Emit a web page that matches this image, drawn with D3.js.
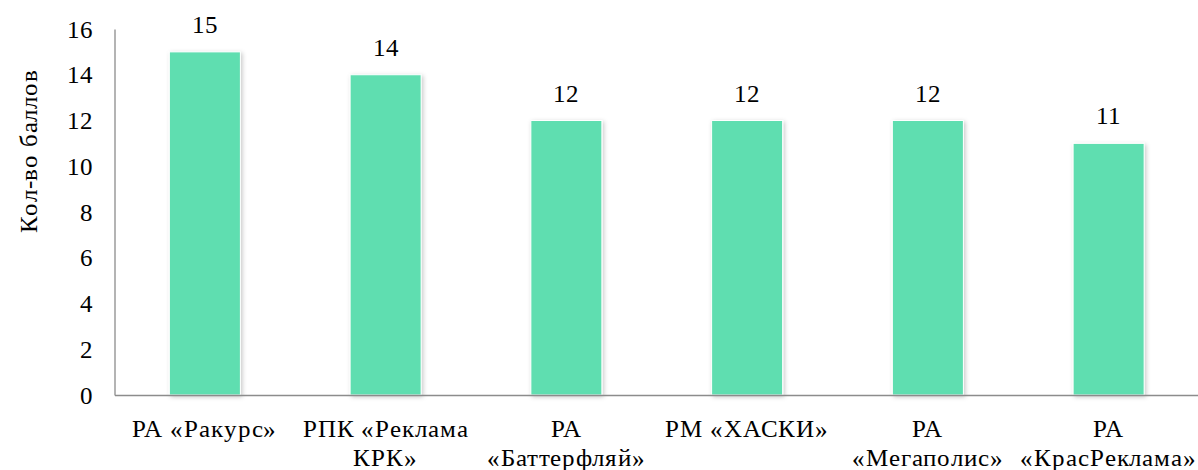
<!DOCTYPE html>
<html><head><meta charset="utf-8"><script src="https://cdn.jsdelivr.net/npm/d3@7"></script>
<style>
@font-face { font-family: "ChartSerif"; src: local("Liberation Serif"), local("LiberationSerif"), local("Times New Roman"); }
#chart text { font-family: "ChartSerif", "Liberation Serif", "Times New Roman", serif !important; }
</style>
</head>
<body style="margin:0;background:#fff">
<svg id="chart" width="1198" height="470"></svg>
<script>
const categories = [
  "РА «Ракурс»",
  "РПК «Реклама\nКРК»",
  "РА\n«Баттерфляй»",
  "РМ «ХАСКИ»",
  "РА\n«Мегаполис»",
  "РА\n«КрасРеклама»"
];
const values = [15, 14, 12, 12, 12, 11];
const yTicks = [0, 2, 4, 6, 8, 10, 12, 14, 16];
const yTitle = "Кол-во баллов";

const serifFont = "ChartSerif, Liberation Serif, serif";
const svg = d3.select("#chart");
const mLeft = 114.5, mRight = 1199, mTop = 29, mBottom = 395;

const defs = svg.append("defs");
const flt = defs.append("filter").attr("id", "shadow")
  .attr("x", "-20%").attr("y", "-20%").attr("width", "140%").attr("height", "140%");
flt.append("feDropShadow").attr("dx", 1.5).attr("dy", 1.5).attr("stdDeviation", 2)
  .attr("flood-color", "#000").attr("flood-opacity", 0.22);

const x = d3.scaleBand().domain(categories).range([mLeft, mRight]).paddingInner(0.607).paddingOuter(0.3035);
const y = d3.scaleLinear().domain([0, 16]).range([mBottom, mTop]);

svg.append("g").selectAll("rect").data(values).enter().append("rect")
  .attr("x", (d, i) => x(categories[i]))
  .attr("y", d => y(d))
  .attr("width", x.bandwidth())
  .attr("height", d => y(0) - y(d))
  .attr("fill", "#5EDEB0")
  .attr("stroke", "#fff")
  .attr("stroke-width", 1)
  .attr("filter", "url(#shadow)");

svg.append("g").selectAll("text").data(values).enter().append("text")
  .attr("x", (d, i) => x(categories[i]) + x.bandwidth() / 2)
  .attr("y", d => y(d) - 19)
  .attr("text-anchor", "middle")
  .attr("font-family", serifFont).attr("font-size", 24.5)
  .text(d => d);

const yAxis = d3.axisLeft(y).tickValues(yTicks).tickSize(0).tickPadding(22);
const gy = svg.append("g").attr("transform", `translate(${mLeft},0)`).call(yAxis);
gy.attr("font-family", serifFont).attr("font-size", 25);
gy.select(".domain").attr("stroke", "#8c8c8c").attr("stroke-width", 1.3);
gy.selectAll("text").attr("font-family", serifFont).attr("font-size", 25).attr("fill", "#000");

const xAxis = d3.axisBottom(x).tickSize(0).tickFormat("");
const gx = svg.append("g").attr("transform", `translate(0,${mBottom})`).call(xAxis);
gx.select(".domain").attr("stroke", "#8c8c8c").attr("stroke-width", 1.3);

const cl = svg.append("g").selectAll("text").data(categories).enter().append("text")
  .attr("text-anchor", "middle")
  .attr("font-family", serifFont).attr("font-size", 25).attr("letter-spacing", 0.9)
  .attr("x", d => x(d) + x.bandwidth() / 2)
  .attr("y", 437);
cl.each(function(d) {
  const lines = d.split("\n");
  const t = d3.select(this);
  lines.forEach((ln, i) => {
    t.append("tspan").attr("x", x(d) + x.bandwidth() / 2).attr("dy", i === 0 ? 0 : 28.5).text(ln);
  });
});

svg.append("text")
  .attr("transform", `translate(36.5,151) rotate(-90)`)
  .attr("text-anchor", "middle")
  .attr("font-family", serifFont).attr("font-size", 25).attr("letter-spacing", 0.8)
  .text(yTitle);
</script>
</body>
</html>
